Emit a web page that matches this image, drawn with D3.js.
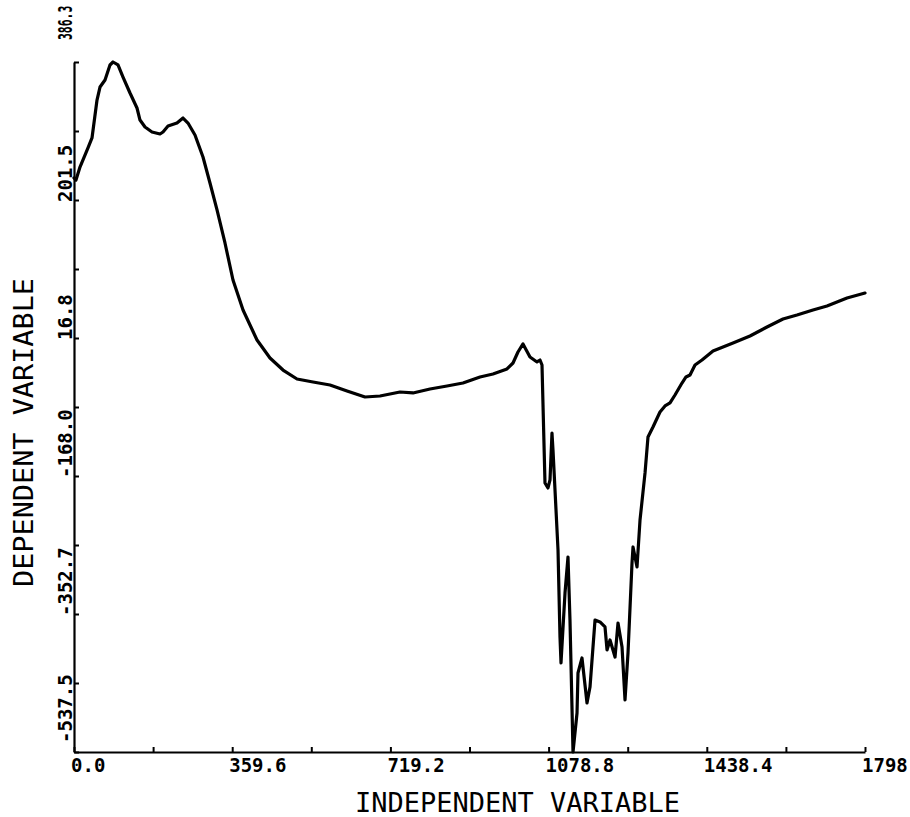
<!DOCTYPE html>
<html>
<head>
<meta charset="utf-8">
<script src="https://cdn.jsdelivr.net/npm/d3@7/dist/d3.min.js"></script>
<style>
  html, body { margin: 0; padding: 0; background: #fff; }
  svg { display: block; }
  text { fill: #000; }
</style>
</head>
<body>
<svg id="chart" width="910" height="817"></svg>
<script>
// ---- data ----
const xValues = [0, 4.5, 13.6, 31.8, 40.9, 52.3, 59.1, 70.5, 81.8, 88.7, 100.0, 111.4, 127.3, 143.2, 150.0, 161.4, 177.3, 195.5, 202.3, 213.7, 234.1, 247.8, 259.1, 275.0, 293.2, 309.1, 325.1, 343.2, 361.4, 384.2, 416.0, 445.5, 475.1, 506.9, 543.3, 581.9, 620.6, 661.5, 695.6, 741.0, 770.6, 809.2, 847.9, 884.2, 922.9, 952.4, 984.2, 997.9, 1009.2, 1020.6, 1036.5, 1052.4, 1059.3, 1063.8, 1070.6, 1077.4, 1082.0, 1086.5, 1088.8, 1100.2, 1104.7, 1107.0, 1116.1, 1122.9, 1127.4, 1134.3, 1143.4, 1145.6, 1154.7, 1166.1, 1172.9, 1184.3, 1195.6, 1207.0, 1211.6, 1218.4, 1229.8, 1236.6, 1245.7, 1252.5, 1259.3, 1268.4, 1270.7, 1279.8, 1286.6, 1298.0, 1304.7, 1316.1, 1332.0, 1343.4, 1354.8, 1366.1, 1382.0, 1391.1, 1400.2, 1411.6, 1427.5, 1452.5, 1498.0, 1536.6, 1575.2, 1611.6, 1643.4, 1679.8, 1711.6, 1757.1, 1798];
const yValues = [231.0, 228.3, 245.7, 271.2, 284.6, 335.4, 352.8, 362.2, 382.3, 386.3, 382.3, 366.2, 344.8, 324.7, 308.6, 299.3, 292.6, 289.9, 292.6, 300.6, 304.6, 311.3, 304.6, 288.6, 259.1, 224.3, 188.2, 144.0, 94.4, 54.3, 14.1, -10.0, -26.1, -38.1, -42.1, -46.1, -54.2, -62.2, -60.9, -55.5, -56.8, -51.5, -47.5, -43.5, -35.4, -31.4, -24.7, -16.7, -2.0, 8.8, -8.7, -15.3, -12.7, -19.4, -177.3, -184.0, -173.3, -110.4, -133.2, -267.0, -383.5, -418.3, -324.6, -276.4, -360.8, -537.5, -485.3, -431.7, -411.6, -471.9, -450.5, -360.8, -363.4, -370.1, -400.9, -387.5, -410.3, -364.8, -396.9, -467.9, -404.9, -284.4, -263.0, -289.8, -226.9, -163.9, -115.8, -102.4, -82.3, -74.2, -70.2, -59.5, -43.5, -35.4, -32.7, -19.4, -12.7, -0.6, 10.1, 19.5, 31.5, 42.2, 47.6, 54.3, 59.6, 70.3, 77.0];

const xTickLabels = ["0.0", "359.6", "719.2", "1078.8", "1438.4", "1798"];
const yTickLabels = ["-537.5", "-352.7", "-168.0", "16.8", "201.5", "386.3"];
const xTitle = "INDEPENDENT VARIABLE";
const yTitle = "DEPENDENT VARIABLE";

// ---- layout ----
const xMin = 0, xMax = 1798;
const yMin = -537.5, yMax = 386.3;
const plotLeft = 74, plotRight = 865, plotTop = 62, plotBottom = 752;

const svg = d3.select("#chart");
const x = d3.scaleLinear().domain([xMin, xMax]).range([plotLeft, plotRight]);
const y = d3.scaleLinear().domain([yMin, yMax]).range([plotBottom, plotTop]);

const FONT = "'DejaVu Sans Mono', 'Liberation Mono', monospace";

// tick values: labelled every (range/5), unlabelled halfway
const xTicks = d3.range(0, 11).map(i => xMin + (xMax - xMin) * i / 10);
const yTicks = d3.range(0, 11).map(i => yMin + (yMax - yMin) * i / 10);

// X axis
const xAxis = d3.axisBottom(x).tickValues(xTicks).tickSize(-5).tickSizeOuter(0)
  .tickFormat(() => "");
const gx = svg.append("g").attr("transform", `translate(0,${plotBottom})`).call(xAxis);
gx.select(".domain").attr("stroke", "#000").attr("stroke-width", 2.2);
gx.selectAll(".tick line").attr("stroke", "#000").attr("stroke-width", 2);

// X tick labels
svg.append("g").selectAll("text").data(xTickLabels).join("text")
  .attr("x", (d, i) => x(xTicks[i * 2]) - 3)
  .attr("y", plotBottom + 20)
  .attr("text-anchor", "start")
  .style("font-family", FONT).style("font-weight", "bold").style("font-size", "19px")
  .text(d => d);

// Y axis
const yAxis = d3.axisLeft(y).tickValues(yTicks).tickSize(-5).tickSizeOuter(0)
  .tickFormat(() => "");
const gy = svg.append("g").attr("transform", `translate(${plotLeft},0)`).call(yAxis);
gy.select(".domain").attr("stroke", "#000").attr("stroke-width", 2.2);
gy.selectAll(".tick line").attr("stroke", "#000").attr("stroke-width", 2);

// Y tick labels (rotated); the top one is squeezed to fit above the axis
const lastY = yTickLabels.length - 1;
svg.append("g").selectAll("text").data(yTickLabels).join("text")
  .attr("transform", (d, i) => {
    let ty = y(yTicks[i * 2]);
    if (i === 0) ty -= 9;
    else if (i === lastY) ty -= 22;
    else ty += 2;
    const sq = i === lastY ? " scale(0.6,1)" : "";
    return `translate(${plotLeft - 2},${ty}) rotate(-90)${sq}`;
  })
  .attr("text-anchor", "start")
  .style("font-family", FONT).style("font-weight", "bold").style("font-size", "19px")
  .text(d => d);

// Titles
svg.append("text")
  .attr("x", 355).attr("y", 812)
  .attr("textLength", 325).attr("lengthAdjust", "spacingAndGlyphs")
  .style("font-family", FONT).style("font-size", "26px")
  .text(xTitle);

svg.append("text")
  .attr("transform", `translate(33,587) rotate(-90)`)
  .attr("textLength", 309).attr("lengthAdjust", "spacingAndGlyphs")
  .style("font-family", FONT).style("font-size", "26px")
  .text(yTitle);

// Curve
const pts = xValues.map((v, i) => [v, yValues[i]]);
const line = d3.line().x(d => x(d[0])).y(d => y(d[1])).curve(d3.curveLinear);
svg.append("path")
  .datum(pts)
  .attr("d", line)
  .attr("fill", "none")
  .attr("stroke", "#000")
  .attr("stroke-width", 3.2)
  .attr("stroke-linejoin", "round")
  .attr("stroke-linecap", "round");
</script>
</body>
</html>
